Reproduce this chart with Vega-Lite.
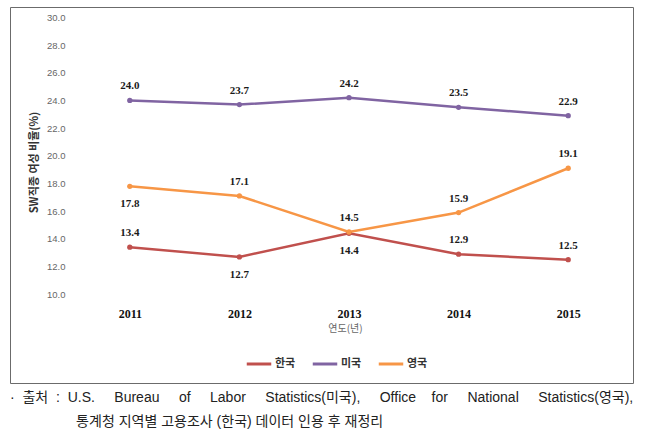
{
  "$schema": "https://vega.github.io/schema/vega-lite/v6.json",
  "width": 623,
  "height": 376,
  "autosize": {"type": "none"},
  "padding": {"left": 10, "top": 7, "right": 17, "bottom": 59},
  "background": "white",
  "config": {
    "view": {"stroke": "#6b6b6b", "strokeWidth": 1},
    "axis": {"grid": false, "domain": false, "ticks": false}
  },
  "title": {
    "text": [
      "· \u00a0출처 \u00a0: \u00a0U.S. \u00a0\u00a0\u00a0\u00a0Bureau \u00a0\u00a0\u00a0\u00a0of \u00a0\u00a0\u00a0\u00a0Labor \u00a0\u00a0\u00a0\u00a0Statistics(미국), \u00a0\u00a0\u00a0\u00a0Office \u00a0\u00a0\u00a0for \u00a0\u00a0\u00a0\u00a0National \u00a0\u00a0\u00a0\u00a0Statistics(영국),",
      "\u200b\u00a0\u00a0\u00a0\u00a0\u00a0\u00a0\u00a0\u00a0\u00a0\u00a0\u00a0\u00a0\u00a0\u00a0\u00a0\u00a0\u00a0통계청 지역별 고용조사 (한국) 데이터 인용 후 재정리"
    ],
    "orient": "bottom",
    "anchor": "start",
    "frame": "group",
    "offset": 8,
    "fontSize": 14,
    "fontWeight": "normal",
    "font": "Liberation Sans, Noto Sans CJK KR",
    "color": "#222222",
    "lineHeight": 24
  },
  "datasets": {
    "rates": [
      {"year": 2011, "country": "한국", "v": 13.4},
      {"year": 2012, "country": "한국", "v": 12.7},
      {"year": 2013, "country": "한국", "v": 14.4},
      {"year": 2014, "country": "한국", "v": 12.9},
      {"year": 2015, "country": "한국", "v": 12.5},
      {"year": 2011, "country": "미국", "v": 24.0},
      {"year": 2012, "country": "미국", "v": 23.7},
      {"year": 2013, "country": "미국", "v": 24.2},
      {"year": 2014, "country": "미국", "v": 23.5},
      {"year": 2015, "country": "미국", "v": 22.9},
      {"year": 2011, "country": "영국", "v": 17.8},
      {"year": 2012, "country": "영국", "v": 17.1},
      {"year": 2013, "country": "영국", "v": 14.5},
      {"year": 2014, "country": "영국", "v": 15.9},
      {"year": 2015, "country": "영국", "v": 19.1}
    ],
    "grid": [
      {"v": 10}, {"v": 12}, {"v": 14}, {"v": 16}, {"v": 18}, {"v": 20},
      {"v": 22}, {"v": 24}, {"v": 26}, {"v": 28}, {"v": 30}
    ]
  },
  "encoding": {
    "x": {
      "field": "year", "type": "quantitative",
      "scale": {"domain": [2009.9069, 2015.5912], "nice": false, "zero": false},
      "axis": {
        "values": [2011, 2012, 2013, 2014, 2015], "format": "d",
        "orient": "bottom", "offset": -79,
        "labelPadding": 4, "labelFont": "Liberation Serif", "labelFontWeight": "bold",
        "labelFontSize": 12, "labelColor": "#111111",
        "title": "연도(년)", "titleFont": "Noto Sans CJK KR", "titleFontSize": 10,
        "titleFontWeight": "normal", "titleColor": "#666666", "titlePadding": 4,
        "titleX": 335
      }
    },
    "y": {
      "field": "v", "type": "quantitative",
      "scale": {"domain": [3.596, 30.744], "nice": false, "zero": false},
      "axis": {
        "values": [10, 12, 14, 16, 18, 20, 22, 24, 26, 28, 30], "format": ".1f",
        "orient": "left", "offset": -59,
        "labelPadding": 4, "labelFont": "Liberation Sans", "labelFontSize": 9.5,
        "labelColor": "#666666",
        "title": "SW직종 여성 비율(%)", "titleFont": "Noto Sans CJK KR", "titleFontSize": 11,
        "titleFontWeight": "bold", "titleColor": "#333333",
        "titleX": -30, "titleY": 155
      }
    }
  },
  "layer": [
    {
      "data": {"name": "grid"},
      "mark": {"type": "rule", "color": "#d9d9d9", "strokeWidth": 1},
      "encoding": {
        "x": {
          "datum": 2010.5, "type": "quantitative",
          "scale": {"domain": [2009.9069, 2015.5912], "nice": false, "zero": false},
          "axis": {
            "values": [2011, 2012, 2013, 2014, 2015], "format": "d",
            "orient": "bottom", "offset": -79,
            "labelPadding": 4, "labelFont": "Liberation Serif", "labelFontWeight": "bold",
            "labelFontSize": 12, "labelColor": "#111111",
            "title": "연도(년)", "titleFont": "Noto Sans CJK KR", "titleFontSize": 10,
            "titleFontWeight": "normal", "titleColor": "#666666", "titlePadding": 4,
            "titleX": 335
          }
        },
        "x2": {"datum": 2015.5}
      }
    },
    {
      "data": {"name": "rates"},
      "mark": {"type": "line", "strokeWidth": 2.5},
      "encoding": {
        "color": {
          "field": "country", "type": "nominal",
          "scale": {"domain": ["한국", "미국", "영국"], "range": ["#c0504d", "#8064a2", "#f79646"]},
          "legend": {
            "orient": "none", "legendX": 235, "legendY": 343, "direction": "horizontal",
            "title": null, "symbolType": "stroke", "symbolStrokeWidth": 3, "symbolSize": 600,
            "labelFont": "Noto Sans CJK KR", "labelFontSize": 11, "labelFontWeight": "bold",
            "labelColor": "#333333", "columnPadding": 10, "labelOffset": 2
          }
        }
      }
    },
    {
      "data": {"name": "rates"},
      "mark": {"type": "point", "filled": true, "size": 28, "opacity": 1},
      "encoding": {
        "color": {"field": "country", "type": "nominal", "legend": null}
      }
    },
    {
      "data": {"name": "rates"},
      "transform": [
        {"filter": "!((datum.country == '영국' && datum.year == 2011) || (datum.country == '한국' && (datum.year == 2012 || datum.year == 2013)))"}
      ],
      "mark": {"type": "text", "font": "Liberation Serif", "fontWeight": "bold", "fontSize": 11,
               "color": "#1a1a1a", "baseline": "middle", "dy": -14},
      "encoding": {
        "text": {"field": "v", "type": "quantitative", "format": ".1f"}
      }
    },
    {
      "data": {"name": "rates"},
      "transform": [
        {"filter": "(datum.country == '영국' && datum.year == 2011) || (datum.country == '한국' && (datum.year == 2012 || datum.year == 2013))"}
      ],
      "mark": {"type": "text", "font": "Liberation Serif", "fontWeight": "bold", "fontSize": 11,
               "color": "#1a1a1a", "baseline": "middle", "dy": 18},
      "encoding": {
        "text": {"field": "v", "type": "quantitative", "format": ".1f"}
      }
    }
  ]
}
